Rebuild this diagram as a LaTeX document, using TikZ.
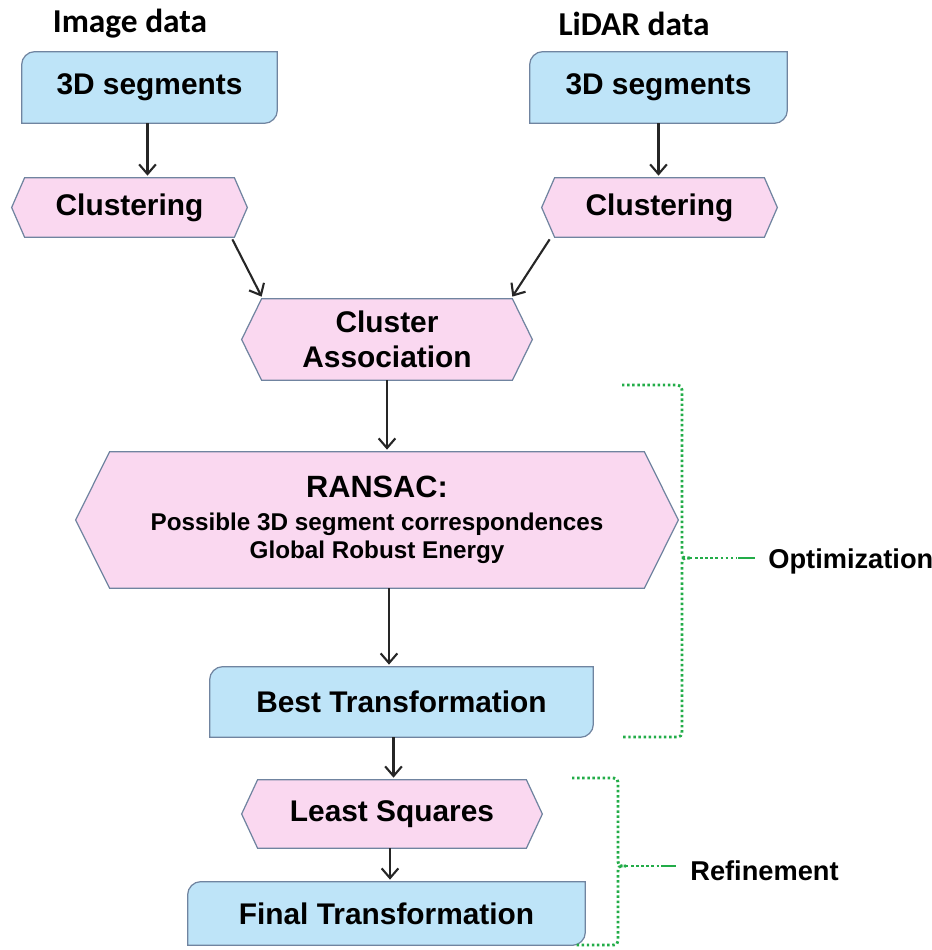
\documentclass[tikz,border=0pt]{standalone}
\usepackage{fontspec}
\setmainfont{Liberation Sans}
\newfontfamily\titlefont{Carlito}
\usetikzlibrary{arrows.meta,calc,backgrounds}
\definecolor{boxblue}{RGB}{190,228,248}
\definecolor{boxpink}{RGB}{250,216,240}
\definecolor{edgec}{RGB}{112,132,160}
\definecolor{braceg}{RGB}{34,172,72}
\newcommand\drawblue[1]{%
  \path[bluefill] ($(#1.north west)+(13,0)$) -- (#1.north east) -- ($(#1.south east)+(0,-13)$)
    .. controls ($(#1.south east)+(0,-6)$) and ($(#1.south east)+(-6,0)$) .. ($(#1.south east)+(-13,0)$) -- (#1.south west)
    -- ($(#1.north west)+(0,13)$) .. controls ($(#1.north west)+(0,6)$) and ($(#1.north west)+(6,0)$) .. ($(#1.north west)+(13,0)$) -- cycle;}
\newcommand\drawhex[2]{%
  \path[pinkfill] ($(#1.north west)+(#2,0)$) -- ($(#1.north east)+(-#2,0)$) -- (#1.east)
    -- ($(#1.south east)+(-#2,0)$) -- ($(#1.south west)+(#2,0)$) -- (#1.west) -- cycle;}
\begin{document}
\begin{tikzpicture}[x=0.02cm,y=-0.02cm,
  sz/.style 2 args={minimum width=#1*0.02cm, minimum height=#2*0.02cm},
  boxtext/.style={inner sep=0pt, align=center, text=black, font=\bfseries\fontsize{17}{20}\selectfont},
  bluefill/.style={fill=boxblue, draw=edgec, line width=0.7pt},
  pinkfill/.style={fill=boxpink, draw=edgec, line width=0.7pt},
  arr/.style={-{Straight Barb[length=5.5pt,width=9.5pt,line width=1.2pt]}, line width=1.2pt, black!85},
  thickarr/.style={arr, line width=1.8pt},
  brace/.style={draw=braceg, line width=1.6pt, dash pattern=on 1.4pt off 1.5pt},
  braceend/.style={draw=braceg, line width=1.6pt},
  title/.style={inner sep=0pt, font=\titlefont\bfseries\fontsize{19}{22}\selectfont, text=black},
  side/.style={inner sep=0pt, anchor=west, font=\bfseries\fontsize{15.5}{18}\selectfont, text=black}]
\useasboundingbox (0,0) rectangle (932,950);

% titles
\node[title] (imgtitle) at (130,24) {Image data};
\node[title] (lidtitle) at (634,24) {LiDAR data};

% nodes
\node[boxtext, sz={255}{71}] (imgseg) at (149.5,87.5) {3D segments};
\node[boxtext, sz={257}{71}] (lidseg) at (658.5,87.5) {3D segments};
\node[boxtext, sz={235}{59}] (clusL) at (129.5,207.5) {Clustering};
\node[boxtext, sz={235}{59}] (clusR) at (659.5,207.5) {Clustering};
\node[boxtext, sz={290}{81}] (assoc) at (387,339.5) {Cluster\\Association};
\node[boxtext, sz={602}{136}, font=\bfseries\fontsize{13.8}{16}\selectfont] (ransac) at (377,520)
  {{\fontsize{17.5}{21}\selectfont RANSAC:}\\[3pt]Possible 3D segment correspondences\\Global Robust Energy};
\node[boxtext, sz={383}{70}] (best) at (401.5,702) {Best Transformation};
\node[boxtext, sz={300}{68}] (lsq) at (392,814) {Least Squares};
\node[boxtext, sz={397}{63}] (final) at (386.5,913.5) {Final Transformation};

% shapes
\begin{scope}[on background layer]
  \drawblue{imgseg}
  \drawblue{lidseg}
  \drawhex{clusL}{13}
  \drawhex{clusR}{13}
  \drawhex{assoc}{20}
  \drawhex{ransac}{34}
  \drawblue{best}
  \drawhex{lsq}{16}
  \drawblue{final}
\end{scope}

% connectors
\draw[arr] ($(imgseg.south)+(-2,0)$) -- ($(imgseg.south |- clusL.north)+(-2,-2)$);
\draw[arr] (lidseg.south) -- ($(lidseg.south |- clusR.north)+(0,-2)$);
\draw[arr] ($(clusL.south east)+(-15,2)$) -- ($(assoc.north west)+(20,-2)$);
\draw[arr] ($(clusR.south west)+(8,2)$) -- ($(assoc.north east)+(-20,-2)$);
\draw[arr] (assoc.south) -- ($(assoc.south |- ransac.north)+(0,-2)$);
\draw[arr] ($(ransac.south)+(12,0)$) -- ($(ransac.south |- best.north)+(12,-2)$);
\draw[thickarr] ($(best.south)+(-8,0)$) -- ($(best.south |- lsq.north)+(-8,-2)$);
\draw[arr] ($(lsq.south)+(-2,0)$) -- ($(lsq.south |- final.north)+(-2,-2)$);

% side labels
\node[side] (optlabel) at (768,561) {Optimization};
\node[side] (reflabel) at (690,871) {Refinement};

% optimization brace
\coordinate (optcusp) at (690,558);
\draw[brace] (622,385) -- (672,385) .. controls (682,385) .. (682,395) -- (682,549)
  .. controls (682,558) .. (optcusp);
\draw[brace] (optcusp) .. controls (682,558) .. (682,567) -- (682,727)
  .. controls (682,737) .. (672,737) -- (622,737);
\draw[brace] (optcusp) -- ($(optlabel.west)+(-31,-3)$);
\draw[braceend] ($(optlabel.west)+(-30,-3)$) -- ($(optlabel.west)+(-13,-3)$);

% refinement brace
\coordinate (refcusp) at (626,866);
\draw[brace] (572,778) -- (609,778) .. controls (618,778) .. (618,787) -- (618,857)
  .. controls (618,866) .. (refcusp);
\draw[brace] (refcusp) .. controls (618,866) .. (618,875) -- (618,936)
  .. controls (618,945) .. (609,945) -- (574,945);
\draw[brace] (refcusp) -- ($(reflabel.west)+(-30,-5)$);
\draw[braceend] ($(reflabel.west)+(-29,-5)$) -- ($(reflabel.west)+(-14,-5)$);
\end{tikzpicture}
\end{document}
